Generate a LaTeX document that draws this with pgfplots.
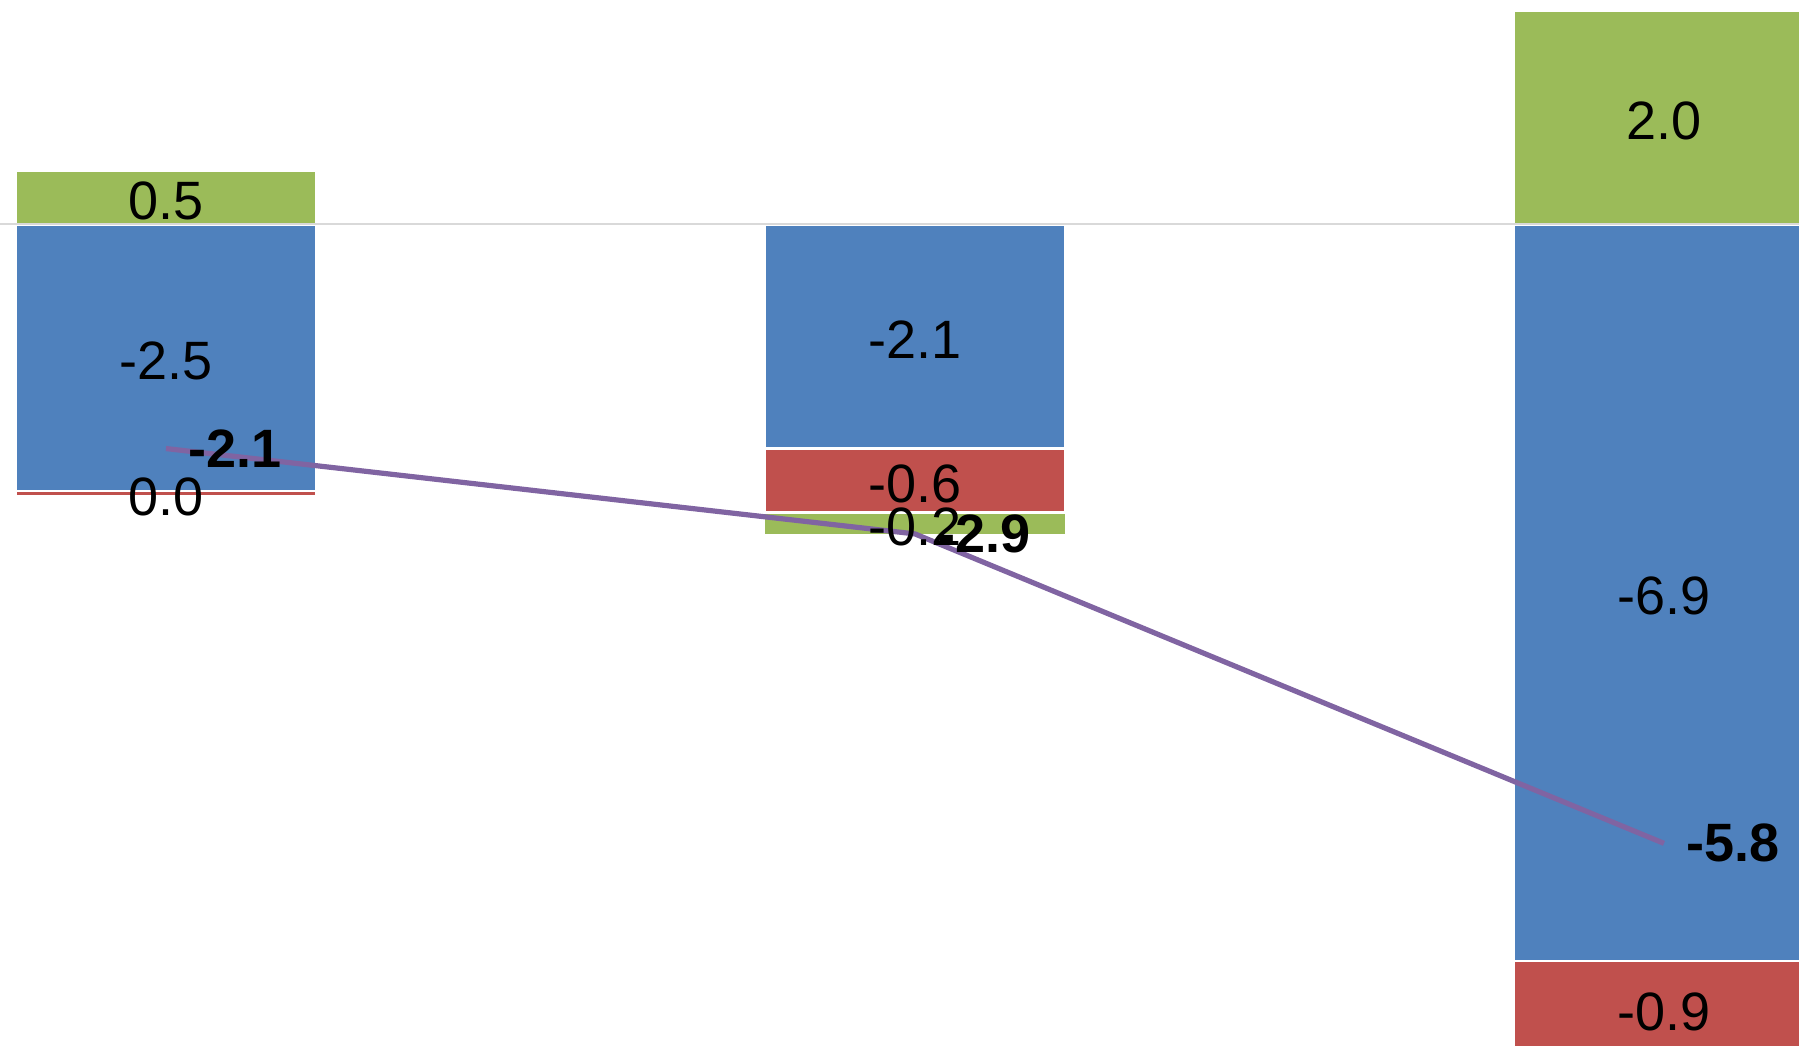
\documentclass[border=0pt]{standalone}
\usepackage{pgfplots}
\pgfplotsset{compat=1.18}
\usepackage{fontspec}
\setmainfont{Liberation Sans}

\definecolor{barblue}{HTML}{4F81BD}
\definecolor{barred}{HTML}{C0504D}
\definecolor{bargreen}{HTML}{9BBB59}
\definecolor{linepurple}{HTML}{8064A2}
\definecolor{zerogray}{HTML}{D9D9D9}

\newcommand{\lblfont}{\fontsize{13.5}{16}\selectfont}

\pgfplotsset{
  chartframe/.style={
    width=449.75pt, height=261.5pt, scale only axis,
    xmin=-0.2216, xmax=2.1803, ymin=-7.699, ymax=2.104,
    axis lines=none, ticks=none,
  },
}

\begin{document}
\begin{tikzpicture}
% negative components, stacked downward from zero
\begin{axis}[chartframe, ybar stacked, bar width=75pt, bar shift=0pt]
\addplot[fill=barblue, draw=white, line width=0.6pt] coordinates {(0,-2.5) (1,-2.1) (2,-6.9)};
\addplot[fill=barred, draw=white, line width=0.6pt] coordinates {(0,-0.045) (1,-0.6) (2,-0.9)};
\addplot[fill=bargreen, draw=none] coordinates {(0,0) (1,-0.2) (2,0)};
\end{axis}
% positive components, zero line, total line and value labels
\begin{axis}[chartframe, name=main]
\addplot[ybar, bar width=75pt, bar shift=0pt, fill=bargreen, draw=white, line width=0.6pt] coordinates {(0,0.5) (2,2.0)};
\addplot[zerogray, line width=0.5pt, mark=none] coordinates {(-0.3,0) (2.3,0)};
\addplot[linepurple, line width=1.3pt, mark=none, nodes near coords, point meta=explicit symbolic,
  every node near coord/.append style={anchor=west, xshift=5pt, inner sep=0pt, font=\lblfont\bfseries, text=black}]
  coordinates {(0,-2.1)[-2.1] (1,-2.9)[-2.9] (2,-5.8)[-5.8]};
\addplot[draw=none, mark=none, nodes near coords, point meta=explicit symbolic,
  every node near coord/.append style={anchor=center, yshift=-0.8pt, inner sep=0pt, font=\lblfont, text=black}]
  coordinates {
  (0,0.25)[0.5] (0,-1.25)[-2.5] (0,-2.52)[0.0]
  (1,-1.05)[-2.1] (1,-2.4)[-0.6] (1,-2.8)[-0.2]
  (2,1.0)[2.0] (2,-3.45)[-6.9] (2,-7.35)[-0.9]};
\end{axis}
\pgfresetboundingbox
\path[use as bounding box] (main.south west) rectangle (main.north east);
\end{tikzpicture}
\end{document}
